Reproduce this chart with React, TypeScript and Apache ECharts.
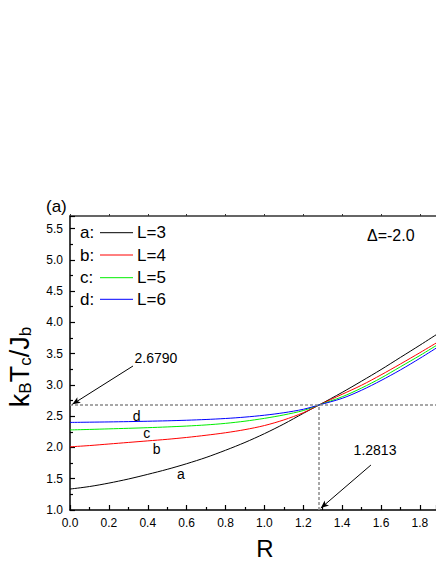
import React, { useEffect, useRef } from 'react';
import * as echarts from 'echarts';

const FONT = 'Liberation Sans, Arial, sans-serif';

const rValues = [0, 0.1, 0.2, 0.3, 0.4, 0.5, 0.6, 0.7, 0.8, 0.9, 1.0, 1.1, 1.2, 1.2813, 1.4, 1.5, 1.6, 1.7, 1.8, 1.9];
const seriesL3 = [1.335, 1.375, 1.43, 1.495, 1.57, 1.65, 1.74, 1.84, 1.955, 2.08, 2.22, 2.375, 2.545, 2.679, 2.88, 3.06, 3.245, 3.44, 3.635, 3.835];
const seriesL4 = [2.01, 2.03, 2.055, 2.08, 2.105, 2.13, 2.16, 2.195, 2.235, 2.285, 2.35, 2.44, 2.555, 2.679, 2.85, 2.995, 3.16, 3.335, 3.515, 3.7];
const seriesL5 = [2.28, 2.288, 2.297, 2.306, 2.316, 2.328, 2.342, 2.36, 2.385, 2.42, 2.465, 2.52, 2.59, 2.679, 2.81, 2.95, 3.11, 3.29, 3.47, 3.66];
const seriesL6 = [2.4, 2.404, 2.408, 2.413, 2.419, 2.426, 2.435, 2.447, 2.463, 2.485, 2.515, 2.555, 2.61, 2.679, 2.785, 2.915, 3.07, 3.24, 3.425, 3.62];

const seriesNames = ['L=3', 'L=4', 'L=5', 'L=6'];
const seriesKeys = ['a:', 'b:', 'c:', 'd:'];
const seriesColors = ['#000000', '#ff0000', '#00ee00', '#0000ff'];
const seriesData = [seriesL3, seriesL4, seriesL5, seriesL6];

const X_MIN = 0;
const X_MAX = 1.8827;
const X_INTERVAL = 0.2;
const Y_MIN = 1.0;
const Y_MAX = 5.7;
const Y_INTERVAL = 0.5;

const crossR = 1.2813;
const crossT = 2.679;

// curve letter labels at data coordinates
const curveLabels = [
  { text: 'a', r: 0.571, t: 1.576 },
  { text: 'b', r: 0.446, t: 1.97 },
  { text: 'c', r: 0.395, t: 2.226 },
  { text: 'd', r: 0.343, t: 2.508 },
];

// annotation texts and arrows (data coordinates)
const annoTexts = [
  { text: '2.6790', r: 0.442, t: 3.43 },
  { text: '1.2813', r: 1.569, t: 1.959 },
];
const arrows = [
  { from: [0.324, 3.302], to: [0.012, 2.69] },
  { from: [1.548, 1.719], to: [1.29, 1.03] },
];

export default function App() {
  const ref = useRef<HTMLDivElement>(null);

  useEffect(() => {
    if (!ref.current) return;
    const chart = echarts.init(ref.current, undefined, { renderer: 'svg' });

    const markLineData: any[] = [
      [
        { coord: [X_MIN, crossT], symbol: 'none', lineStyle: { type: [3, 2], color: '#8a8a8a', width: 1.5 } },
        { coord: [X_MAX, crossT], symbol: 'none' },
      ],
      [
        { coord: [crossR, Y_MIN], symbol: 'none', lineStyle: { type: [3, 2], color: '#8a8a8a', width: 1.5 } },
        { coord: [crossR, crossT], symbol: 'none' },
      ],
      ...arrows.map((a) => [
        { coord: a.from, symbol: 'none', lineStyle: { type: 'solid', color: '#000', width: 1 } },
        { coord: a.to, symbol: 'arrow', symbolSize: [5, 8] },
      ]),
    ];

    const series = seriesNames.map((name, i) => ({
      name,
      type: 'line',
      data: rValues.map((r, j) => [r, seriesData[i][j]]),
      showSymbol: false,
      symbol: 'none',
      smooth: 0.3,
      lineStyle: { color: seriesColors[i], width: 1 },
      itemStyle: { color: seriesColors[i] },
      silent: true,
      ...(i === 0
        ? {
            markLine: {
              silent: true,
              animation: false,
              label: { show: false },
              emphasis: { disabled: true },
              data: markLineData,
            },
          }
        : {}),
    }));

    const tickStyle = { color: '#000', width: 1.2 };

    chart.setOption({
      animation: false,
      grid: { left: 70, top: 216, right: 0, bottom: 54, containLabel: false },
      xAxis: [
        {
          type: 'value',
          min: X_MIN,
          max: X_MAX,
          interval: X_INTERVAL,
          axisLine: { lineStyle: { color: '#000', width: 1.5 } },
          axisTick: { inside: true, length: 5, lineStyle: tickStyle },
          minorTick: { show: true, splitNumber: 2, length: 3, lineStyle: tickStyle },
          splitLine: { show: false },
          axisLabel: {
            showMaxLabel: false,
            fontSize: 12,
            fontFamily: FONT,
            color: '#000',
            margin: 7,
            formatter: (v: number) => v.toFixed(1),
          },
        },
        {
          type: 'value',
          position: 'top',
          min: X_MIN,
          max: X_MAX,
          interval: X_INTERVAL,
          axisLine: { show: true, onZero: false, lineStyle: { color: '#333', width: 1.5 } },
          axisTick: { show: true, inside: false, length: 2, lineStyle: { color: '#333', width: 1 } },
          axisLabel: { show: false },
          splitLine: { show: false },
        },
      ],
      yAxis: {
        type: 'value',
        min: Y_MIN,
        max: Y_MAX,
        interval: Y_INTERVAL,
        axisLine: { show: true, lineStyle: { color: '#000', width: 1.5 } },
        axisTick: { show: true, inside: true, length: 5, lineStyle: tickStyle },
        minorTick: { show: true, splitNumber: 2, length: 3, lineStyle: tickStyle },
        splitLine: { show: false },
        axisLabel: {
          showMaxLabel: false,
          fontSize: 12,
          fontFamily: FONT,
          color: '#000',
          margin: 7,
          formatter: (v: number) => v.toFixed(1),
        },
      },
      series,
    });

    const toPx = (p: number[]) => chart.convertToPixel({ seriesIndex: 0 }, p) as number[];

    const legendRowsY = [232.7, 255, 277.7, 299.3];
    const textStyle = (text: string, fontSize: number, align = 'left') => ({
      text,
      fontSize,
      fontFamily: FONT,
      fill: '#000',
      align,
      verticalAlign: 'middle',
    });

    const graphics: any[] = [
      { type: 'text', x: 46, y: 206, style: textStyle('(a)', 17) },
      { type: 'text', x: 367, y: 235, style: textStyle('Δ=-2.0', 16) },
      ...seriesKeys.map((k, i) => ({ type: 'text', x: 80, y: legendRowsY[i], style: textStyle(k, 17) })),
      ...seriesColors.map((c, i) => ({
        type: 'line',
        shape: { x1: 100, y1: legendRowsY[i], x2: 133, y2: legendRowsY[i] },
        style: { stroke: c, lineWidth: 1 },
      })),
      ...seriesNames.map((n, i) => ({ type: 'text', x: 137, y: legendRowsY[i], style: textStyle(n, 17) })),
      {
        type: 'text',
        x: 20,
        y: 367,
        rotation: Math.PI / 2,
        style: {
          text: '{m|k}{s|B}{m|T}{s|c}{m|/J}{s|b}',
          align: 'center',
          verticalAlign: 'middle',
          rich: {
            m: { fontSize: 27, fontFamily: FONT, fill: '#000' },
            s: { fontSize: 17, fontFamily: FONT, fill: '#000', verticalAlign: 'bottom' },
          },
        },
      },
      { type: 'text', x: 265, y: 548, style: textStyle('R', 24, 'center') },
      ...curveLabels.map((c) => {
        const p = toPx([c.r, c.t]);
        return { type: 'text', x: p[0], y: p[1], style: textStyle(c.text, 14, 'center') };
      }),
      ...annoTexts.map((c) => {
        const p = toPx([c.r, c.t]);
        return { type: 'text', x: p[0], y: p[1], style: textStyle(c.text, 14, 'center') };
      }),
    ];

    chart.setOption({ graphic: graphics });

    return () => {
      chart.dispose();
    };
  }, []);

  return (
    <div
      ref={ref}
      style={{ position: 'fixed', left: 0, top: 0, width: 436, height: 564, background: '#fff' }}
    />
  );
}
